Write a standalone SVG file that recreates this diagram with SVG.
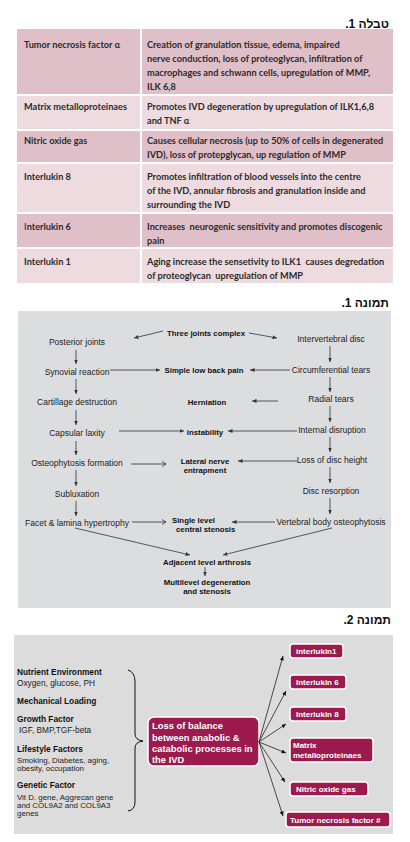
<svg xmlns="http://www.w3.org/2000/svg" width="410" height="842" viewBox="0 0 410 842">
<style>
.hd{font-family:"Liberation Sans","DejaVu Sans",sans-serif;font-weight:bold;font-size:12px;fill:#111;text-anchor:end}
.tb{font-family:Lato,"Liberation Sans",sans-serif;font-weight:bold;font-size:9.2px;fill:#2b2b2b}
.dark{fill:#dfbfc8}
.light{fill:#eddbe0}
.sep{stroke:#fff;stroke-width:2}
.f1{font-family:"Liberation Sans",Arial,sans-serif;font-size:8.5px;fill:#222;text-anchor:middle}
.f1b{font-family:"Liberation Sans",Arial,sans-serif;font-size:7.8px;font-weight:bold;fill:#111;text-anchor:middle}
.c1{stroke:#333;stroke-width:0.8;fill:none;marker-end:url(#ah)}
.c1o{stroke:#333;stroke-width:0.8;fill:none;marker-end:url(#ao)}
.f2{font-family:"Liberation Sans",Arial,sans-serif;font-size:8.3px;fill:#222}
.f2s{font-family:"Liberation Sans",Arial,sans-serif;font-size:7.9px;fill:#222}
.f2b{font-family:"Liberation Sans",Arial,sans-serif;font-size:8.3px;font-weight:bold;fill:#111}
.bx{fill:#9c1a4d;stroke:#fff;stroke-width:1.5}
.bt{font-family:"Liberation Sans",Arial,sans-serif;font-size:8px;font-weight:bold;fill:#fff}
.c2{stroke:#222;stroke-width:0.8;fill:none;marker-end:url(#ah2)}
</style>
<defs>
<marker id="ah" markerUnits="userSpaceOnUse" markerWidth="5" markerHeight="4" refX="4.5" refY="2" orient="auto"><path d="M0,0 L4.5,2 L0,4 Z" fill="#333"/></marker>
<marker id="ao" markerUnits="userSpaceOnUse" markerWidth="6" markerHeight="6" refX="5" refY="3" orient="auto"><path d="M1,0.5 L5,3 L1,5.5" fill="none" stroke="#333" stroke-width="0.8"/></marker>
<marker id="ah2" markerUnits="userSpaceOnUse" markerWidth="5" markerHeight="4" refX="4.5" refY="2" orient="auto"><path d="M0,0 L4.5,2 L0,4 Z" fill="#111"/></marker>
</defs>
<rect width="410" height="842" fill="#fff"/>

<!-- Table 1 -->
<text class="hd" x="389" y="28">טבלה 1.&#x200F;</text>
<g id="table1">
<rect class="dark" x="17" y="29" width="376" height="66"/>
<rect class="light" x="17" y="95" width="376" height="35"/>
<rect class="dark" x="17" y="130" width="376" height="33"/>
<rect class="light" x="17" y="163" width="376" height="50"/>
<rect class="dark" x="17" y="213" width="376" height="35"/>
<rect class="light" x="17" y="248" width="376" height="35"/>
<line class="sep" x1="141" y1="29" x2="141" y2="283"/>
<line class="sep" x1="17" y1="95" x2="393" y2="95"/>
<line class="sep" x1="17" y1="130" x2="393" y2="130"/>
<line class="sep" x1="17" y1="163" x2="393" y2="163"/>
<line class="sep" x1="17" y1="213" x2="393" y2="213"/>
<line class="sep" x1="17" y1="248" x2="393" y2="248"/>
</g>
<g id="row1">
<text class="tb" x="24" y="48">Tumor necrosis factor α</text>
<text class="tb" x="147" y="48">Creation of granulation tissue, edema, impaired</text>
<text class="tb" x="147" y="62">nerve conduction, loss of proteoglycan, infiltration of</text>
<text class="tb" x="147" y="76">macrophages and schwann cells, upregulation of MMP,</text>
<text class="tb" x="147" y="90">ILK 6,8</text>
</g>
<g id="row2">
<text class="tb" x="24" y="110">Matrix metalloproteinaes</text>
<text class="tb" x="147" y="110">Promotes IVD degeneration by upregulation of ILK1,6,8</text>
<text class="tb" x="147" y="124">and TNF α</text>
</g>
<g id="row3">
<text class="tb" x="24" y="144">Nitric oxide gas</text>
<text class="tb" x="147" y="144">Causes cellular necrosis (up to 50% of cells in degenerated</text>
<text class="tb" x="147" y="158">IVD), loss of protepglycan, up regulation of MMP</text>
</g>
<g id="row4">
<text class="tb" x="24" y="180">Interlukin 8</text>
<text class="tb" x="147" y="180">Promotes infiltration of blood vessels into the centre</text>
<text class="tb" x="147" y="194">of the IVD, annular fibrosis and granulation inside and</text>
<text class="tb" x="147" y="208">surrounding the IVD</text>
</g>
<g id="row5">
<text class="tb" x="24" y="230"><tspan fill="#b0155a">I</tspan>nterlukin 6</text>
<text class="tb" x="147" y="230" xml:space="preserve">Increases  neurogenic sensitivity and promotes discogenic</text>
<text class="tb" x="147" y="244">pain</text>
</g>
<g id="row6">
<text class="tb" x="24" y="265">Interlukin 1</text>
<text class="tb" x="147" y="265" xml:space="preserve">Aging increase the sensetivity to ILK1  causes degredation</text>
<text class="tb" x="147" y="279" xml:space="preserve">of proteoglycan  upregulation of MMP</text>
</g>

<!-- Figure 1 -->
<text class="hd" x="389" y="307">תמונה 1.&#x200F;</text>
<rect x="18" y="311" width="373" height="297" fill="#dcdddf"/>
<g id="f1-three"><text class="f1b" x="206" y="336">Three joints complex</text></g>
<g id="f1-posterior"><text class="f1" x="77" y="345">Posterior joints</text></g>
<g id="f1-synovial"><text class="f1" x="77" y="375">Synovial reaction</text></g>
<g id="f1-cartilage"><text class="f1" x="77" y="405">Cartillage destruction</text></g>
<g id="f1-capsular"><text class="f1" x="77" y="436">Capsular laxity</text></g>
<g id="f1-osteo"><text class="f1" x="77" y="466">Osteophytosis formation</text></g>
<g id="f1-sublux"><text class="f1" x="77" y="497">Subluxation</text></g>
<g id="f1-facet"><text class="f1" x="77" y="526">Facet &amp; lamina hypertrophy</text></g>
<g id="f1-ivd"><text class="f1" x="331" y="342">Intervertebral disc</text></g>
<g id="f1-circ"><text class="f1" x="331" y="373">Circumferential tears</text></g>
<g id="f1-radial"><text class="f1" x="331" y="402">Radial tears</text></g>
<g id="f1-internal"><text class="f1" x="332" y="433">Internal disruption</text></g>
<g id="f1-loss"><text class="f1" x="332" y="463">Loss of disc height</text></g>
<g id="f1-resorp"><text class="f1" x="331" y="494">Disc resorption</text></g>
<g id="f1-vert"><text class="f1" x="331" y="525">Vertebral body osteophytosis</text></g>
<g id="f1-slbp"><text class="f1b" x="204" y="373">Simple low back pain</text></g>
<g id="f1-hern"><text class="f1b" x="207" y="405">Herniation</text></g>
<g id="f1-inst"><text class="f1b" x="205" y="435">instability</text></g>
<g id="f1-lat"><text class="f1b" x="205" y="464">Lateral nerve</text><text class="f1b" x="205" y="473">entrapment</text></g>
<g id="f1-single"><text class="f1b" x="172" y="523" style="text-anchor:start">Single level</text><text class="f1b" x="176" y="532" style="text-anchor:start">central stenosis</text></g>
<g id="f1-adj"><text class="f1b" x="207" y="565">Adjacent level arthrosis</text></g>
<g id="f1-multi"><text class="f1b" x="207" y="585">Multilevel degeneration</text><text class="f1b" x="207" y="594">and stenosis</text></g>
<g id="f1-connectors">
<line class="c1" x1="76" y1="350" x2="76" y2="364"/>
<line class="c1" x1="76" y1="379" x2="76" y2="394"/>
<line class="c1" x1="76" y1="410" x2="76" y2="425"/>
<line class="c1" x1="76" y1="441" x2="76" y2="455"/>
<line class="c1" x1="76" y1="470" x2="76" y2="486"/>
<line class="c1" x1="76" y1="501" x2="76" y2="516"/>
<line class="c1" x1="330" y1="346" x2="330" y2="362"/>
<line class="c1" x1="330" y1="377" x2="330" y2="392"/>
<line class="c1" x1="330" y1="406" x2="330" y2="422"/>
<line class="c1" x1="330" y1="437" x2="330" y2="452"/>
<line class="c1" x1="330" y1="467" x2="330" y2="483"/>
<line class="c1" x1="330" y1="498" x2="330" y2="514"/>
<line class="c1" x1="163" y1="331" x2="134" y2="338"/>
<line class="c1" x1="249" y1="333" x2="277" y2="338"/>
<line class="c1" x1="110" y1="370" x2="160" y2="370"/>
<line class="c1" x1="290" y1="370" x2="250" y2="370"/>
<line class="c1" x1="278" y1="401" x2="252" y2="401"/>
<line class="c1" x1="119" y1="431" x2="184" y2="431"/>
<line class="c1" x1="297" y1="431" x2="228" y2="431"/>
<line class="c1o" x1="131" y1="464" x2="166" y2="464"/>
<line class="c1" x1="297" y1="461" x2="238" y2="461"/>
<line class="c1o" x1="132" y1="522" x2="166" y2="522"/>
<line class="c1" x1="275" y1="522" x2="232" y2="522"/>
<line class="c1" x1="75" y1="528" x2="190" y2="555"/>
<line class="c1" x1="332" y1="528" x2="223" y2="555"/>
<line class="c1" x1="205" y1="567" x2="205" y2="576"/>
</g>

<!-- Figure 2 -->
<text class="hd" x="391" y="624">תמונה 2.&#x200F;</text>
<rect x="14" y="635" width="379" height="199" fill="#dcdcdc"/>
<g id="f2-factors">
<text class="f2b" x="17" y="675">Nutrient Environment</text>
<text class="f2" x="17" y="686">Oxygen, glucose, PH</text>
<text class="f2b" x="17" y="704">Mechanical Loading</text>
<text class="f2b" x="17" y="722">Growth Factor</text>
<text class="f2" x="19" y="733">IGF, BMP,TGF-beta</text>
<text class="f2b" x="17" y="752">Lifestyle Factors</text>
<text class="f2s" x="17" y="763">Smoking, Diabetes, aging,</text>
<text class="f2s" x="17" y="771">obesity, occupation</text>
<text class="f2b" x="17" y="788">Genetic Factor</text>
<text class="f2s" x="17" y="800">Vit D. gene, Aggrecan gene</text>
<text class="f2s" x="17" y="808">and COL9A2 and COL9A3</text>
<text class="f2s" x="17" y="816">genes</text>
</g>
<path d="M128,670 Q135,672 135,682 L135,734 Q135,740 143,741 Q135,742 135,748 L135,802 Q135,810 128,811" fill="none" stroke="#111" stroke-width="1"/>
<g id="f2-center">
<rect class="bx" x="148" y="717" width="111" height="49" rx="6"/>
<text class="bt" style="font-size:9.4px" x="152" y="729">Loss of balance</text>
<text class="bt" style="font-size:9.4px" x="152" y="741">between anabolic &amp;</text>
<text class="bt" style="font-size:9.4px" x="152" y="752">catabolic processes in</text>
<text class="bt" style="font-size:9.4px" x="152" y="763">the IVD</text>
</g>
<g id="f2-il1"><rect class="bx" x="290" y="644" width="53" height="14" rx="3"/><text class="bt" x="296" y="654">interlukin1</text></g>
<g id="f2-il6"><rect class="bx" x="290" y="675" width="56" height="14" rx="3"/><text class="bt" x="296" y="685">Interlukin 6</text></g>
<g id="f2-il8"><rect class="bx" x="290" y="707" width="56" height="14" rx="3"/><text class="bt" x="296" y="717">Interlukin 8</text></g>
<g id="f2-mmp"><rect class="bx" x="290" y="738" width="83" height="24" rx="3"/><text class="bt" x="293" y="748">Matrix</text><text class="bt" x="293" y="758">metalloproteinaes</text></g>
<g id="f2-no"><rect class="bx" x="290" y="782" width="78" height="14" rx="3"/><text class="bt" x="296" y="792">Nitric oxide gas</text></g>
<g id="f2-tnf"><rect class="bx" x="286" y="812" width="104" height="15" rx="3"/><text class="bt" x="290" y="823">Tumor necrosis factor #</text></g>
<g id="f2-connectors">
<line class="c2" x1="259" y1="742" x2="283" y2="656"/>
<line class="c2" x1="259" y1="742" x2="286" y2="691"/>
<line class="c2" x1="259" y1="742" x2="286" y2="724"/>
<line class="c2" x1="259" y1="742" x2="286" y2="753"/>
<line class="c2" x1="259" y1="742" x2="285" y2="782"/>
<line class="c2" x1="259" y1="742" x2="283" y2="816"/>
</g>
</svg>
